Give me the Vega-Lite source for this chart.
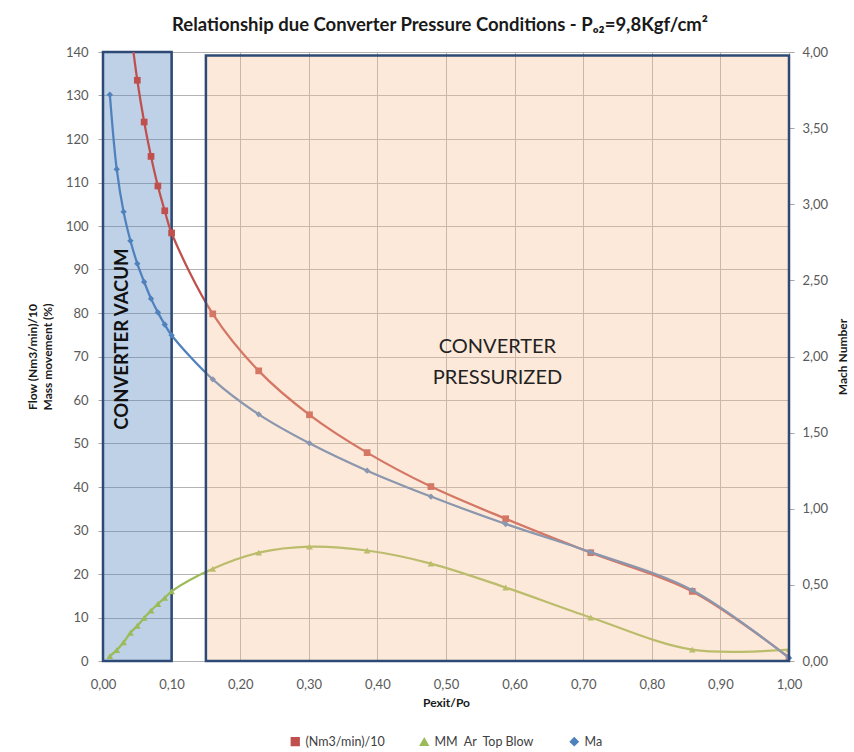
{
  "$schema": "https://vega.github.io/schema/vega-lite/v6.json",
  "width": 686,
  "height": 609,
  "autosize": {"type": "none"},
  "padding": {"left": 103, "top": 52, "right": 65, "bottom": 91},
  "background": "white",
  "config": {"font": "Lato", "view": {"stroke": null}, "legend": {"layout": {"bottom": {"anchor": "middle"}}}},
  "title": {"text": "Relationship due Converter Pressure Conditions - Pₒ₂=9,8Kgf/cm²", "fontSize": 18.5, "fontWeight": "bold", "color": "#1a1a1a", "offset": 12, "dx": -6},
  "data": {"values": [
    {"pexit": 0.04, "series": "(Nm3/min)/10", "value": 145.5},
    {"pexit": 0.05, "series": "(Nm3/min)/10", "value": 133.5},
    {"pexit": 0.06, "series": "(Nm3/min)/10", "value": 123.9},
    {"pexit": 0.07, "series": "(Nm3/min)/10", "value": 116.0},
    {"pexit": 0.08, "series": "(Nm3/min)/10", "value": 109.2},
    {"pexit": 0.09, "series": "(Nm3/min)/10", "value": 103.5},
    {"pexit": 0.10, "series": "(Nm3/min)/10", "value": 98.4},
    {"pexit": 0.16, "series": "(Nm3/min)/10", "value": 79.8},
    {"pexit": 0.227, "series": "(Nm3/min)/10", "value": 66.7},
    {"pexit": 0.301, "series": "(Nm3/min)/10", "value": 56.6},
    {"pexit": 0.385, "series": "(Nm3/min)/10", "value": 47.9},
    {"pexit": 0.478, "series": "(Nm3/min)/10", "value": 40.1},
    {"pexit": 0.587, "series": "(Nm3/min)/10", "value": 32.7},
    {"pexit": 0.711, "series": "(Nm3/min)/10", "value": 24.9},
    {"pexit": 0.859, "series": "(Nm3/min)/10", "value": 16.0},
    {"pexit": 1.0, "series": "(Nm3/min)/10", "value": 0.8},
    {"pexit": 0.01, "series": "MM\u00a0 Ar\u00a0 Top Blow", "value": 1.1},
    {"pexit": 0.02, "series": "MM\u00a0 Ar\u00a0 Top Blow", "value": 2.5},
    {"pexit": 0.03, "series": "MM\u00a0 Ar\u00a0 Top Blow", "value": 4.3},
    {"pexit": 0.04, "series": "MM\u00a0 Ar\u00a0 Top Blow", "value": 6.5},
    {"pexit": 0.05, "series": "MM\u00a0 Ar\u00a0 Top Blow", "value": 8.1},
    {"pexit": 0.06, "series": "MM\u00a0 Ar\u00a0 Top Blow", "value": 9.9},
    {"pexit": 0.07, "series": "MM\u00a0 Ar\u00a0 Top Blow", "value": 11.6},
    {"pexit": 0.08, "series": "MM\u00a0 Ar\u00a0 Top Blow", "value": 13.1},
    {"pexit": 0.09, "series": "MM\u00a0 Ar\u00a0 Top Blow", "value": 14.5},
    {"pexit": 0.10, "series": "MM\u00a0 Ar\u00a0 Top Blow", "value": 16.0},
    {"pexit": 0.16, "series": "MM\u00a0 Ar\u00a0 Top Blow", "value": 21.2},
    {"pexit": 0.227, "series": "MM\u00a0 Ar\u00a0 Top Blow", "value": 24.9},
    {"pexit": 0.301, "series": "MM\u00a0 Ar\u00a0 Top Blow", "value": 26.3},
    {"pexit": 0.385, "series": "MM\u00a0 Ar\u00a0 Top Blow", "value": 25.4},
    {"pexit": 0.478, "series": "MM\u00a0 Ar\u00a0 Top Blow", "value": 22.4},
    {"pexit": 0.587, "series": "MM\u00a0 Ar\u00a0 Top Blow", "value": 16.9},
    {"pexit": 0.711, "series": "MM\u00a0 Ar\u00a0 Top Blow", "value": 10.0},
    {"pexit": 0.859, "series": "MM\u00a0 Ar\u00a0 Top Blow", "value": 2.6},
    {"pexit": 1.0, "series": "MM\u00a0 Ar\u00a0 Top Blow", "value": 2.6},
    {"pexit": 0.01, "series": "Ma", "value": 3.72},
    {"pexit": 0.02, "series": "Ma", "value": 3.23},
    {"pexit": 0.03, "series": "Ma", "value": 2.95},
    {"pexit": 0.04, "series": "Ma", "value": 2.76},
    {"pexit": 0.05, "series": "Ma", "value": 2.61},
    {"pexit": 0.06, "series": "Ma", "value": 2.49},
    {"pexit": 0.07, "series": "Ma", "value": 2.38},
    {"pexit": 0.08, "series": "Ma", "value": 2.29},
    {"pexit": 0.09, "series": "Ma", "value": 2.21},
    {"pexit": 0.10, "series": "Ma", "value": 2.14},
    {"pexit": 0.16, "series": "Ma", "value": 1.85},
    {"pexit": 0.227, "series": "Ma", "value": 1.62},
    {"pexit": 0.301, "series": "Ma", "value": 1.43},
    {"pexit": 0.385, "series": "Ma", "value": 1.25},
    {"pexit": 0.478, "series": "Ma", "value": 1.08},
    {"pexit": 0.587, "series": "Ma", "value": 0.90},
    {"pexit": 0.711, "series": "Ma", "value": 0.715},
    {"pexit": 0.859, "series": "Ma", "value": 0.465},
    {"pexit": 1.0, "series": "Ma", "value": 0.02}
  ]},
  "layer": [
    {
      "layer": [
        {
          "data": {"values": [{}]},
          "mark": {"type": "rect", "fill": "#4f81bd", "fillOpacity": 0.37, "stroke": "#2c4a75", "strokeWidth": 2.5},
          "encoding": {
            "x": {"datum": 0, "type": "quantitative", "scale": {"domain": [0, 1]}},
            "x2": {"datum": 0.1},
            "y": {"datum": 0, "type": "quantitative", "scale": {"domain": [0, 140]}},
            "y2": {"datum": 140}
          }
        },
        {
          "data": {"values": [{}]},
          "mark": {"type": "text", "text": "CONVERTER VACUM", "angle": 270, "fontSize": 18.5, "fontWeight": "bold", "align": "center", "baseline": "middle", "color": "#111111"},
          "encoding": {
            "x": {"datum": 0.028, "type": "quantitative"},
            "y": {"datum": 74, "type": "quantitative"}
          }
        },
        {
          "transform": [{"filter": "datum.series != 'Ma'"}],
          "mark": {"type": "line", "interpolate": "catmull-rom", "strokeWidth": 2.25, "clip": true},
          "encoding": {
            "x": {"field": "pexit", "type": "quantitative", "scale": {"domain": [0, 1]},
              "axis": {
                "title": "Pexit/Po", "grid": true,
                "values": [0,0.025,0.05,0.075,0.1,0.125,0.15,0.175,0.2,0.225,0.25,0.275,0.3,0.325,0.35,0.375,0.4,0.425,0.45,0.475,0.5,0.525,0.55,0.575,0.6,0.625,0.65,0.675,0.7,0.725,0.75,0.775,0.8,0.825,0.85,0.875,0.9,0.925,0.95,0.975,1],
                "labelExpr": "abs(datum.value*10 - round(datum.value*10)) < 0.001 ? replace(format(datum.value, '.2f'), '.', ',') : ''",
                "gridColor": {"condition": {"test": "abs(datum.value*10 - round(datum.value*10)) < 0.001", "value": "#b3b3b3"}, "value": "#e2e2e2"},
                "ticks": false, "domain": false, "labelPadding": 17, "labelFontSize": 13, "labelColor": "#595959",
                "labelOverlap": false, "labelFlush": false, "labelBound": false,
                "titleFontSize": 12, "titleFontWeight": "bold", "titleColor": "#1a1a1a", "titlePadding": 6
              }
            },
            "y": {"field": "value", "type": "quantitative", "scale": {"domain": [0, 140]},
              "axis": {
                "title": ["Flow (Nm3/min)/10", "Mass movement (%)"], "grid": true,
                "values": [0,10,20,30,40,50,60,70,80,90,100,110,120,130,140],
                "gridColor": "#b3b3b3", "domain": false, "tickColor": "#a6a6a6", "tickSize": 5, "labelPadding": 10,
                "labelFontSize": 13, "labelColor": "#595959",
                "titleFontSize": 12, "titleFontWeight": "bold", "titleColor": "#1a1a1a", "titlePadding": 11, "titleLineHeight": 15
              }
            },
            "color": {"field": "series", "type": "nominal",
              "scale": {"domain": ["(Nm3/min)/10", "MM\u00a0 Ar\u00a0 Top Blow", "Ma"], "range": ["#c0504d", "#9bbb59", "#4f81bd"]}}
          }
        },
        {
          "transform": [{"filter": "datum.series != 'Ma'"}],
          "mark": {"type": "point", "filled": true, "size": 45, "opacity": 1, "clip": true},
          "encoding": {
            "x": {"field": "pexit", "type": "quantitative"},
            "y": {"field": "value", "type": "quantitative"},
            "color": {"field": "series", "type": "nominal",
              "legend": {"title": null, "orient": "bottom", "direction": "horizontal", "labelFontSize": 12.5, "labelColor": "#404040", "symbolSize": 60, "columnPadding": 32, "offset": 27}},
            "shape": {"field": "series", "type": "nominal",
              "scale": {"domain": ["(Nm3/min)/10", "MM\u00a0 Ar\u00a0 Top Blow", "Ma"], "range": ["square", "triangle-up", "diamond"]},
              "legend": {"title": null, "orient": "bottom", "direction": "horizontal", "labelFontSize": 12.5, "labelColor": "#404040", "symbolSize": 60, "columnPadding": 32, "offset": 27}}
          }
        }
      ]
    },
    {
      "layer": [
        {
          "transform": [{"filter": "datum.series == 'Ma'"}],
          "mark": {"type": "line", "interpolate": "catmull-rom", "strokeWidth": 2.25},
          "encoding": {
            "x": {"field": "pexit", "type": "quantitative"},
            "y": {"field": "value", "type": "quantitative", "scale": {"domain": [0, 4]},
              "axis": {
                "orient": "right", "title": "Mach Number",
                "values": [0,0.5,1,1.5,2,2.5,3,3.5,4],
                "labelExpr": "replace(format(datum.value, '.2f'), '.', ',')",
                "grid": false, "domain": false, "tickColor": "#a6a6a6", "tickSize": 5, "labelPadding": 8,
                "labelFontSize": 13, "labelColor": "#595959",
                "titleFontSize": 12, "titleFontWeight": "bold", "titleColor": "#1a1a1a", "titlePadding": 22, "titleAngle": 270
              }
            },
            "color": {"field": "series", "type": "nominal"}
          }
        },
        {
          "transform": [{"filter": "datum.series == 'Ma'"}],
          "mark": {"type": "point", "filled": true, "size": 40, "opacity": 1},
          "encoding": {
            "x": {"field": "pexit", "type": "quantitative"},
            "y": {"field": "value", "type": "quantitative"},
            "color": {"field": "series", "type": "nominal",
              "legend": {"title": null, "orient": "bottom", "direction": "horizontal", "labelFontSize": 12.5, "labelColor": "#404040", "symbolSize": 60, "columnPadding": 32, "offset": 27}},
            "shape": {"field": "series", "type": "nominal",
              "legend": {"title": null, "orient": "bottom", "direction": "horizontal", "labelFontSize": 12.5, "labelColor": "#404040", "symbolSize": 60, "columnPadding": 32, "offset": 27}}
          }
        },
        {
          "data": {"values": [{}]},
          "mark": {"type": "rect", "fill": "#f9c092", "fillOpacity": 0.35, "stroke": "#2c4a75", "strokeWidth": 2.5},
          "encoding": {
            "x": {"datum": 0.15, "type": "quantitative"},
            "x2": {"datum": 1},
            "y": {"datum": 0, "type": "quantitative"},
            "y2": {"datum": 3.977}
          }
        },
        {
          "data": {"values": [{}]},
          "mark": {"type": "text", "text": ["CONVERTER", "PRESSURIZED"], "fontSize": 20, "lineHeight": 31, "align": "center", "baseline": "middle", "color": "#222222"},
          "encoding": {
            "x": {"datum": 0.575, "type": "quantitative"},
            "y": {"datum": 2.062, "type": "quantitative"}
          }
        }
      ]
    }
  ],
  "resolve": {"scale": {"y": "independent"}}
}
